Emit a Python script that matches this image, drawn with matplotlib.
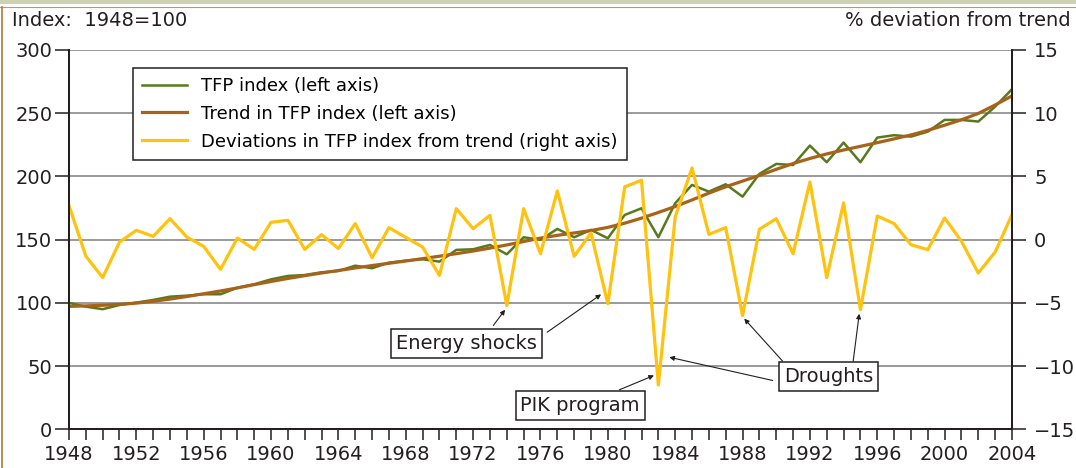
import matplotlib.pyplot as plt
from matplotlib.lines import Line2D
from matplotlib.patches import Rectangle

years = list(range(1948, 2005))

tfp_index = [100, 97, 95, 98.3, 100.2, 102.3, 104.9, 105.7, 106.8, 106.8,
             112, 114.7, 118.6, 121.3, 122, 124.2, 125.2, 129.4, 127.4, 131.8,
             133.4, 134.5, 132.6, 141.9, 142.4, 145.8, 138.4, 151.9, 149.8, 158.5,
             151.9, 157.7, 151.1, 169.5, 174.8, 151.9, 178.8, 193.3, 188, 193.8,
             184, 202, 209.9, 209, 224.4, 211.2, 226.8, 211.2, 230.7, 232.6,
             231.5, 235.4, 244.7, 244.7, 243.4, 255.2, 269]

tfp_trend = [97.2, 97.6, 98.1, 98.8, 99.8, 101.2, 103, 105, 107.2, 109.4,
             111.8, 114.4, 116.9, 119.3, 121.5, 123.6, 125.6, 127.6, 129.5, 131.3,
             133.1, 135, 136.9, 138.9, 141, 143.3, 145.8, 148.5, 151.2, 153.4,
             155.3, 157.2, 159.7, 163, 167, 171.5, 176.2, 181.4, 186.8, 191.8,
             196.3, 200.8, 205.6, 210.2, 214.2, 217.8, 220.9, 223.8, 226.7, 229.7,
             232.8, 236.4, 240.5, 244.8, 249.8, 256.5, 263.7]

deviation = [2.7, -1.3, -3.0, -0.2, 0.74, 0.26, 1.66, 0.2, -0.53, -2.35,
             0.13, -0.77, 1.37, 1.53, -0.77, 0.4, -0.7, 1.27, -1.43, 0.95,
             0.18, -0.58, -2.83, 2.45, 0.87, 1.92, -5.2, 2.45, -1.11, 3.85,
             -1.32, 0.52, -5.07, 4.17, 4.7, -11.5, 1.8, 5.67, 0.42, 0.95,
             -6.0, 0.82, 1.66, -1.11, 4.56, -3.0, 2.9, -5.54, 1.87, 1.27,
             -0.4, -0.79, 1.71, -0.13, -2.64, -0.98, 1.98]

left_ticks = [0, 50, 100, 150, 200, 250, 300]
right_ticks = [-15, -10, -5, 0, 5, 10, 15]
year_labels = list(range(1948, 2005, 4))

green = '#567a1c'
brown = '#a8631a'
gold = '#ffc20e'
dark = '#231f20'

plt.rcParams['font.family'] = 'DejaVu Sans'

fig = plt.figure(figsize=(10.76, 4.68), dpi=100)
ax1 = fig.add_axes([0.0641, 0.0827, 0.8764, 0.8105])
ax2 = ax1.twinx()

# frame decorations of the original graphic
fig.add_artist(Rectangle((0, 0.992), 1, 0.008, transform=fig.transFigure,
                         facecolor='#cdd3b0', edgecolor='none'))
fig.add_artist(Line2D([0, 1], [0.985, 0.985], transform=fig.transFigure,
                      color='#c8955a', lw=0.8))
fig.add_artist(Line2D([0.0015, 0.0015], [0, 0.985], transform=fig.transFigure,
                      color='#b07a3a', lw=1.2))

l1, = ax1.plot(years, tfp_index, color=green, lw=1.8, label='TFP index (left axis)')
l2, = ax1.plot(years, tfp_trend, color=brown, lw=2.3, label='Trend in TFP index (left axis)')
l3, = ax2.plot(years, deviation, color=gold, lw=2.3,
               label='Deviations in TFP index from trend (right axis)')

ax1.set_xlim(1948, 2004)
ax1.set_ylim(0, 300)
ax2.set_ylim(-15, 15)

ax1.set_yticks(left_ticks)
ax2.set_yticks(right_ticks)
ax1.set_xticks(year_labels)
ax1.set_xticks(years, minor=True)

ax1.grid(axis='y', color='#7f7f7f', lw=1.1)
ax1.set_axisbelow(True)

for ax in (ax1, ax2):
    ax.spines['top'].set_visible(False)
    for s in ('left', 'right', 'bottom'):
        ax.spines[s].set_color(dark)
        ax.spines[s].set_linewidth(1.4)

ax1.tick_params(axis='y', length=10, width=1.1, color=dark, pad=2,
                labelsize=14, labelcolor=dark)
ax2.tick_params(axis='y', length=10, width=1.1, color=dark, pad=6,
                labelsize=14, labelcolor=dark)
ax1.tick_params(axis='x', which='both', length=8, width=1.1, color=dark,
                pad=3, labelsize=14, labelcolor=dark)

fig.text(0.011, 0.957, 'Index:  1948=100', fontsize=14, color=dark, va='center')
fig.text(0.995, 0.957, '% deviation from trend', fontsize=14, color=dark,
         va='center', ha='right')

leg = ax2.legend(handles=[l1, l2, l3], loc='upper left',
                 bbox_to_anchor=(0.0675, 0.953), borderaxespad=0,
                 fontsize=13, fancybox=False, framealpha=1, edgecolor=dark,
                 handlelength=2.5, handletextpad=0.8, labelspacing=0.55,
                 borderpad=0.5)
leg.get_frame().set_linewidth(1.1)
leg.set_zorder(10)

box = dict(boxstyle='square,pad=0.25', facecolor='white', edgecolor=dark, lw=1.1)
ax2.text(1971.6, -8.2, 'Energy shocks', fontsize=14, color=dark,
         ha='center', va='center', bbox=box, zorder=8)
ax2.text(1978.36, -13.1, 'PIK program', fontsize=14, color=dark,
         ha='center', va='center', bbox=box, zorder=8)
ax2.text(1993.12, -10.8, 'Droughts', fontsize=14, color=dark,
         ha='center', va='center', bbox=box, zorder=8)

arrows = [((1973.2, -6.79), (1973.9, -5.54)),
          ((1976.4, -7.32), (1979.6, -4.33)),
          ((1980.68, -11.88), (1982.74, -10.74)),
          ((1990.38, -9.61), (1988.1, -6.25)),
          ((1994.57, -9.61), (1994.93, -5.86)),
          ((1989.79, -11.14), (1983.65, -9.3))]
for start, end in arrows:
    ax2.annotate('', xy=end, xytext=start,
                 arrowprops=dict(arrowstyle='-|>', color=dark, lw=0.8,
                                 mutation_scale=7, shrinkA=0, shrinkB=0),
                 zorder=7)

fig.savefig('out.png', dpi=100)
